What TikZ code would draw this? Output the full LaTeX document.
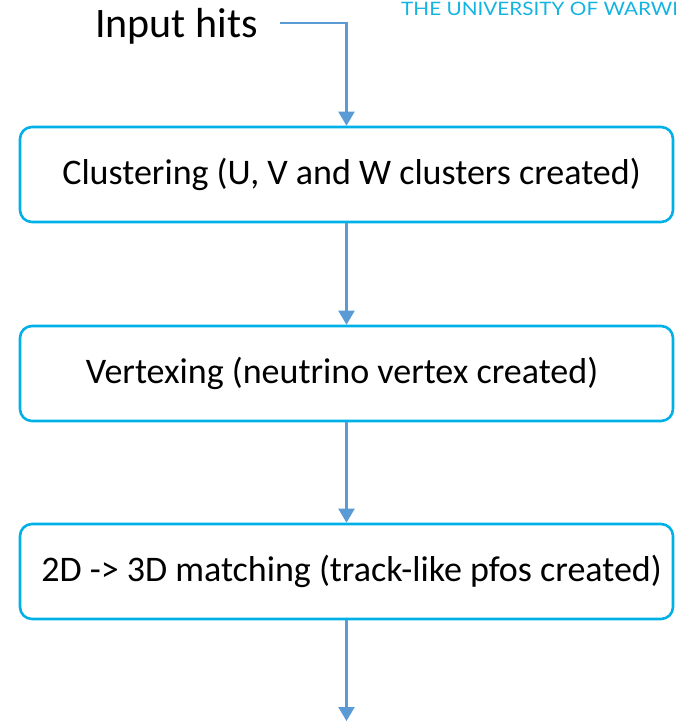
\documentclass[tikz,border=0pt]{standalone}
\usepackage{fontspec}
\setmainfont{Carlito}
\newfontfamily\unifont[FakeStretch=1.12]{Lato}
\usetikzlibrary{arrows.meta}
\definecolor{boxcyan}{RGB}{0,176,230}
\definecolor{flowblue}{RGB}{91,155,213}
\definecolor{unicyan}{RGB}{20,180,225}
\tikzset{
  stagebox/.style={draw=boxcyan, line width=2.6pt, rounded corners=12pt,
    minimum width=653pt, minimum height=95pt, inner sep=0pt,
    font=\fontsize{36}{40}\selectfont},
  flow/.style={draw=flowblue, line width=2.2pt,
    -{Triangle[length=14pt,width=16pt]}},
}
\begin{document}
\begin{tikzpicture}[x=1pt,y=-1pt]
\useasboundingbox (0,0) rectangle (676,721);
\clip (0,0) rectangle (676,721);
% header wordmark
\node[anchor=base west, inner sep=0pt, text=unicyan,
  font=\unifont\fontsize{18.5}{20}\selectfont] (uni) at (401,15) {THE UNIVERSITY OF WARWI};
% input label
\node[anchor=base west, inner sep=0pt, font=\fontsize{42}{46}\selectfont] (input) at (95,37) {Input hits};
\coordinate (bend) at (346.5,23);
\coordinate (start) at (280,23);
% processing stages
\node[stagebox] (clus) at (346.5,174.5) {\hspace{10pt}\raisebox{-2pt}{Clustering (U, V and W clusters created)}};
\node[stagebox] (vert) at (346.5,373.5) {\hspace{-9pt}\raisebox{-2pt}{Vertexing (neutrino vertex created)}};
\node[stagebox] (match) at (346.5,571.5) {\hspace{10pt}\raisebox{-2pt}{2D -> 3D matching (track-like pfos created)}};
\coordinate (out) at (346.5,721);
% connectors
\draw[flow] (start) -- (bend) -- (clus.north);
\draw[flow] (clus.south) -- (vert.north);
\draw[flow] (vert.south) -- (match.north);
\draw[flow] (match.south) -- (out);
\end{tikzpicture}
\end{document}
